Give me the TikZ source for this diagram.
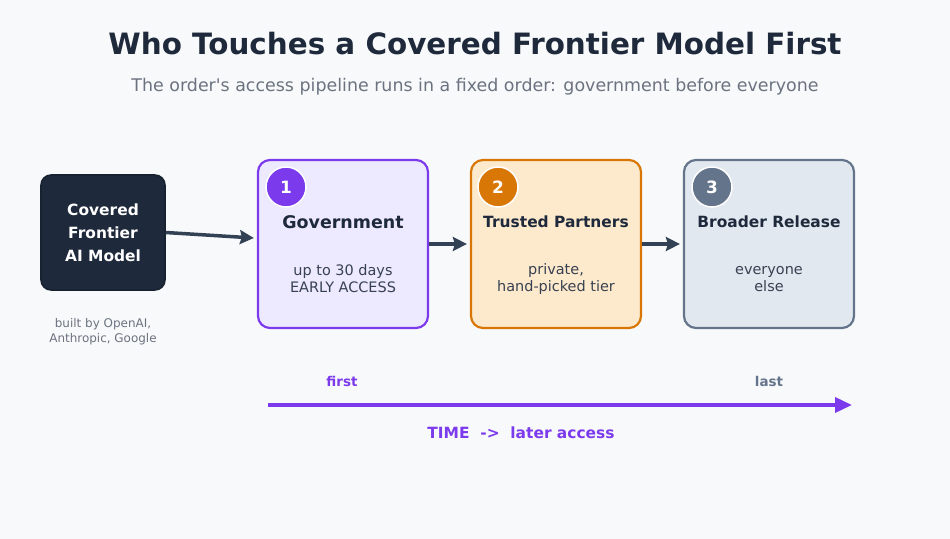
\documentclass[tikz,border=0pt]{standalone}
\usepackage{fontspec}
\setmainfont{DejaVu Sans}
\newfontfamily\plainf{DejaVu Sans}
\usetikzlibrary{arrows.meta}
\definecolor{bg}{HTML}{F8F9FA}
\definecolor{ink}{HTML}{1E293B}
\definecolor{gr}{HTML}{6B7280}
\definecolor{body}{HTML}{374151}
\definecolor{arr}{HTML}{334155}
\definecolor{pu}{HTML}{7C3AED}\definecolor{puf}{HTML}{EDE9FE}
\definecolor{or}{HTML}{D97706}\definecolor{orf}{HTML}{FDE9CC}
\definecolor{sl}{HTML}{64748B}\definecolor{slf}{HTML}{E2E8F0}
\begin{document}
\begin{tikzpicture}[x=1bp,y=-1bp,
 stage/.style={draw=#1,line width=2.2bp,rounded corners=12bp,minimum width=170bp,minimum height=168bp,inner sep=0},
 num/.style={circle,fill=#1,draw=white,line width=1.5bp,minimum size=40bp,inner sep=0,text=white,font=\bfseries\fontsize{17}{18}\selectfont},
 ttl/.style={font=\bfseries\fontsize{15.5}{18}\selectfont,text=ink},
 sub/.style={font=\fontsize{14.5}{17}\selectfont,text=body,align=center},
 flow/.style={draw=arr,line width=3.5bp,-{Stealth[length=14bp,width=14bp,inset=2bp]}}]
\useasboundingbox[fill=bg] (0,0) rectangle (950,539);
\node[font=\bfseries\fontsize{29.5}{32}\selectfont,text=ink] (t) at (475,44) {Who Touches a Covered Frontier Model First};
\node[font=\plainf\fontsize{17.5}{20}\selectfont,text=gr] (st) at (475,87) {The order's access pipeline runs in a fixed order: government before everyone};
\node[fill=ink,draw=ink!80!black,line width=1.5bp,rounded corners=10bp,minimum width=124bp,minimum height=115bp,text=white,align=center,font=\bfseries\fontsize{15.5}{23}\selectfont] (src) at (103,232.5) {Covered\\Frontier\\AI Model};
\node[font=\fontsize{12}{15}\selectfont,text=gr,align=center] (cap) at (103,332) {built by OpenAI,\\Anthropic, Google};
\node[stage=pu,fill=puf] (b1) at (343,244) {};
\node[stage=or,fill=orf] (b2) at (556,244) {};
\node[stage=sl,fill=slf] (b3) at (769,244) {};
\node[num=pu] (n1) at (286,187) {1};
\node[num=or] (n2) at (498,187) {2};
\node[num=sl] (n3) at (712,187) {3};
\node[ttl,font=\bfseries\fontsize{17.5}{18}\selectfont] (t1) at (343,222) {Government};
\node[ttl] (t2) at (556,222) {Trusted Partners};
\node[ttl] (t3) at (769,222) {Broader Release};
\node[sub] (s1) at (343,279) {up to 30 days\\EARLY ACCESS};
\node[sub] (s2) at (556,279) {private,\\hand-picked tier};
\node[sub] (s3) at (769,279) {everyone\\else};
\draw[flow] (src.east) -- ([xshift=-3bp,yshift=6bp]b1.west);
\draw[flow] (b1.east) -- ([xshift=-3bp]b2.west);
\draw[flow] (b2.east) -- ([xshift=-3bp]b3.west);
\coordinate (ta) at (268,405);
\coordinate (tb) at (852,405);
\draw[draw=pu,line width=3.5bp,-{Triangle[length=17bp,width=15bp]}] (ta) -- (tb);
\node[font=\bfseries\fontsize{13.5}{15}\selectfont,text=pu] (f) at (342,381) {first};
\node[font=\bfseries\fontsize{13.5}{15}\selectfont,text=sl] (l) at (769,381) {last};
\node[font=\bfseries\fontsize{15.5}{17}\selectfont,text=pu] (tl) at (521,433) {TIME\ \ ->\ \ later access};
\end{tikzpicture}
\end{document}
